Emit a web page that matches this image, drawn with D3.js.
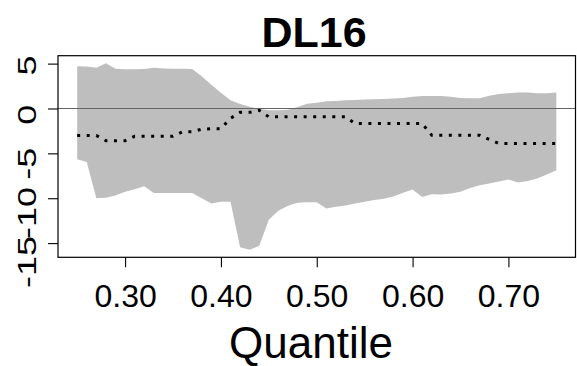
<!DOCTYPE html>
<html>
<head>
<meta charset="utf-8">
<script src="https://cdn.jsdelivr.net/npm/d3@7"></script>
<style>
  body { margin: 0; background: #fff; }
  svg { display: block; }
  text { font-family: "Liberation Sans", Arial, sans-serif; fill: #000; }
</style>
</head>
<body>
<svg id="chart" width="577" height="366"></svg>
<script>
// Quantile grid of the regression
const quantiles = [
  0.25, 0.26, 0.27, 0.28, 0.29, 0.30, 0.31, 0.32, 0.33, 0.34,
  0.35, 0.36, 0.37, 0.38, 0.39, 0.40, 0.41, 0.42, 0.43, 0.44,
  0.45, 0.46, 0.47, 0.48, 0.49, 0.50, 0.51, 0.52, 0.53, 0.54,
  0.55, 0.56, 0.57, 0.58, 0.59, 0.60, 0.61, 0.62, 0.63, 0.64,
  0.65, 0.66, 0.67, 0.68, 0.69, 0.70, 0.71, 0.72, 0.73, 0.74, 0.75
];

// Upper confidence bound
const upper = [
  4.70, 4.68, 4.55, 5.05, 4.44, 4.36, 4.36, 4.40, 4.55, 4.45,
  4.44, 4.44, 4.40, 3.60, 2.65, 1.75, 0.91, 0.50, 0.20, -0.05,
  -0.20, -0.20, -0.13, 0.17, 0.54, 0.65, 0.80, 0.84, 0.91, 0.95,
  0.99, 1.02, 1.06, 1.10, 1.17, 1.32, 1.39, 1.39, 1.39, 1.32,
  1.17, 1.13, 1.13, 1.43, 1.62, 1.69, 1.77, 1.77, 1.69, 1.69, 1.77
];

// Lower confidence bound
const lower = [
  -5.65, -5.95, -10.00, -9.96, -9.70, -9.29, -9.00, -8.66, -9.42, -9.42,
  -9.42, -9.42, -9.42, -10.00, -10.60, -10.40, -10.40, -15.45, -15.75, -15.30,
  -12.40, -11.40, -10.85, -10.50, -10.45, -10.45, -11.15, -10.96, -10.80, -10.60,
  -10.40, -10.20, -10.05, -9.80, -9.40, -9.02, -9.85, -9.57, -9.59, -9.48,
  -9.29, -8.85, -8.55, -8.36, -8.14, -7.92, -8.25, -8.07, -7.81, -7.36, -6.88
];

// Coefficient estimate at each quantile
const estimate = [
  -3.00, -3.00, -3.00, -3.60, -3.60, -3.60, -3.10, -3.10, -3.10, -3.10,
  -3.10, -2.60, -2.60, -2.30, -2.25, -2.25, -1.10, -0.43, -0.43, -0.20,
  -0.93, -0.93, -0.93, -0.93, -0.93, -0.93, -0.93, -0.93, -0.93, -1.68,
  -1.68, -1.68, -1.68, -1.68, -1.68, -1.68, -1.68, -2.98, -2.98, -2.98,
  -2.98, -2.98, -2.98, -3.46, -3.90, -3.90, -3.90, -3.90, -3.90, -3.90, -3.90
];

const xTicks = [0.30, 0.40, 0.50, 0.60, 0.70];
const yTicks = [-15, -10, -5, 0, 5];
const titleText = "DL16";
const xLabelText = "Quantile";

const svg = d3.select("#chart");
const box = { left: 58, right: 575.5, top: 55.7, bottom: 257.3 };

// Extend a range by 4% on each side
const pad4 = ([a, b]) => { const e = (b - a) * 0.04; return [a - e, b + e]; };

const x = d3.scaleLinear()
  .domain(pad4(d3.extent(quantiles)))
  .range([box.left, box.right]);

const y = d3.scaleLinear()
  .domain(pad4([d3.min(lower), d3.max(upper)]))
  .range([box.bottom, box.top]);

// The rotated y labels are tall, so they are spread a little wider than the ticks
const yLabelPos = d3.scaleLinear()
  .domain([d3.min(yTicks), d3.max(yTicks)])
  .range([262, 65.5]);

const rows = quantiles.map((q, i) => ({ q, lo: lower[i], hi: upper[i], est: estimate[i] }));

// Confidence band
svg.append("path")
  .datum(rows)
  .attr("fill", "#bebebe")
  .attr("stroke", "none")
  .attr("d", d3.area().x(d => x(d.q)).y0(d => y(d.lo)).y1(d => y(d.hi)));

// Zero reference line
svg.append("line")
  .attr("x1", box.left).attr("x2", box.right)
  .attr("y1", y(0)).attr("y2", y(0))
  .attr("stroke", "#666")
  .attr("stroke-width", 1.1);

// Estimate, dotted
svg.append("path")
  .datum(rows)
  .attr("fill", "none")
  .attr("stroke", "#000")
  .attr("stroke-width", 3)
  .attr("stroke-dasharray", "3 6.55")
  .attr("d", d3.line().x(d => x(d.q)).y(d => y(d.est)));

// Plot frame
svg.append("rect")
  .attr("x", box.left).attr("y", box.top)
  .attr("width", box.right - box.left).attr("height", box.bottom - box.top)
  .attr("fill", "none").attr("stroke", "#000").attr("stroke-width", 1.2);

// X axis
const gx = svg.append("g")
  .attr("transform", `translate(0,${box.bottom})`)
  .call(d3.axisBottom(x).tickValues(xTicks).tickFormat(d3.format(".2f")).tickSize(10));
gx.select(".domain").remove();
gx.selectAll(".tick line").attr("stroke", "#000").attr("stroke-width", 1.1);
gx.selectAll(".tick text")
  .attr("y", 49.4).attr("dy", null)
  .attr("font-size", 32).attr("fill", "#000")
  .style("font-family", '"Liberation Sans", Arial, sans-serif');

// Y axis: ticks from the axis, labels rotated alongside
const gy = svg.append("g")
  .attr("transform", `translate(${box.left},0)`)
  .call(d3.axisLeft(y).tickValues(yTicks).tickFormat(d => String(d)).tickSize(10));
gy.select(".domain").remove();
gy.selectAll(".tick line").attr("stroke", "#000").attr("stroke-width", 1.1);
gy.selectAll(".tick text").remove();

svg.append("g")
  .selectAll("text")
  .data(yTicks)
  .join("text")
  .attr("text-anchor", "middle")
  .attr("transform", d => `translate(36,${yLabelPos(d)}) rotate(-90) scale(1,0.74)`)
  .attr("font-size", 36)
  .text(d => String(d));

// Title
svg.append("text")
  .attr("x", 314).attr("y", 46.7)
  .attr("text-anchor", "middle")
  .attr("font-size", 43).attr("font-weight", "bold")
  .text(titleText);

// X axis title
svg.append("text")
  .attr("x", 311).attr("y", 358)
  .attr("text-anchor", "middle")
  .attr("font-size", 44)
  .text(xLabelText);
</script>
</body>
</html>
